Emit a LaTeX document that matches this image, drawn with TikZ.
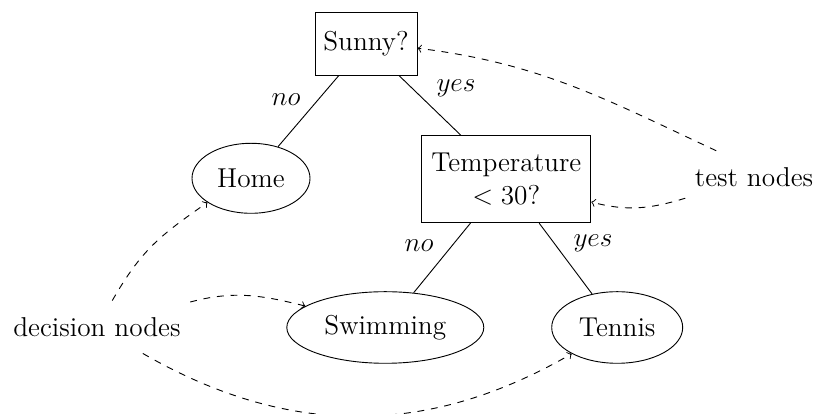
\documentclass[tikz,border=0pt]{standalone}
\usetikzlibrary{shapes.geometric}
\newcommand\pxu{0.4397pt}
\begin{document}
\begin{tikzpicture}[x=0.4397pt, y=-0.4397pt, font=\fontsize{12}{14.5}\selectfont,
  box/.style={draw, rectangle, inner sep=0pt, align=center},
  leaf/.style={draw, ellipse, inner sep=0pt},
  lbl/.style={anchor=base, inner sep=0pt},
  note/.style={inner sep=4pt, minimum height={52*\pxu}},
  link/.style={dashed, ->}]
\useasboundingbox (0,0) rectangle (817,414);
% tree nodes
\node[box, minimum width={102*\pxu}, minimum height={62.7*\pxu}] (sunny) at (366,43.7) {Sunny?};
\node[leaf, minimum width={118*\pxu}, minimum height={70*\pxu}] (home) at (251,178.3) {Home};
\node[box, minimum width={169*\pxu}, minimum height={87*\pxu}] (temp) at (506.3,179.2) {Temperature\\$<30$?};
\node[leaf, minimum width={197*\pxu}, minimum height={71.6*\pxu}] (swim) at (385.3,327.5) {Swimming};
\node[leaf, minimum width={131*\pxu}, minimum height={71.6*\pxu}] (tennis) at (617.2,327.5) {Tennis};
% annotations
\node[note] (dec) at (97,327) {decision nodes};
\node[note] (test) at (754,177.2) {test nodes};
% tree edges
\draw (sunny) -- (home);
\draw (sunny) -- (temp);
\draw (temp) -- (swim);
\draw (temp) -- (tennis);
% edge labels
\node[lbl] (l1) at (286,106) {$no$};
\node[lbl] (l2) at (456,91.7) {$yes$};
\node[lbl] (l3) at (419,251.7) {$no$};
\node[lbl] (l4) at (593,246.5) {$yes$};
% annotation arrows
\draw[link] (test.145) to[out=155, in=-7] (sunny.-5);
\draw[link] (test.197) to[out=197, in=-15] (temp.-15);
\draw[link] (dec.60) to[out=60, in=215, looseness=1.1] (home.209);
\draw[link] (dec.15) to[out=15, in=166] (swim.165);
\draw[link] (dec.-30) to[out=-30, in=210] (tennis.210);
\end{tikzpicture}
\end{document}
